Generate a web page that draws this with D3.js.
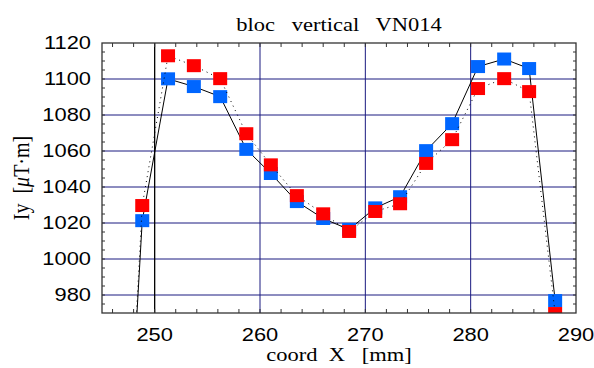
<!DOCTYPE html>
<html>
<head>
<meta charset="utf-8">
<title>bloc vertical VN014</title>
<script src="https://cdn.jsdelivr.net/npm/d3@7"></script>
<style>
  body { margin: 0; background: #fff; }
  .tick-label { font-family: "Liberation Sans", Arial, sans-serif; font-size: 17.5px; fill: #000; }
  .serif { font-family: "Liberation Serif", "Times New Roman", serif; fill: #000; white-space: pre; }
</style>
</head>
<body>
<script>
// measured values (coord X in mm, Iy in uT.m)
// first point sits off the chart, below 970 -> only its line is seen
var coordX = [246.35, 248.82, 251.27, 253.72, 256.22, 258.7, 261.03, 263.5, 266.0, 268.46,
              270.94, 273.3, 275.77, 278.24, 280.7, 283.18, 285.55, 288.02];
var iyBlue = [768, 1021.3, 1100.1, 1095.8, 1090.2, 1060.9, 1047.5, 1031.9, 1022.5, 1016.4,
              1028.4, 1034.6, 1060.2, 1075.2, 1106.9, 1111.1, 1105.8, 976.9];
var iyRed  = [760, 1029.7, 1112.9, 1107.4, 1100.2, 1069.6, 1052.3, 1035.2, 1025.1, 1015.3,
              1026.4, 1030.7, 1053.1, 1066.3, 1094.7, 1100.2, 1093.0, 969.7];
var xTicks = [250, 260, 270, 280, 290];
var yTicks = [980, 1000, 1020, 1040, 1060, 1080, 1100, 1120];

var width = 594, height = 368;
var margin = {top: 43, right: 18, bottom: 55, left: 102};
var w = width - margin.left - margin.right;
var h = height - margin.top - margin.bottom;
var stretch = 1.25; // the text in the picture is drawn wide

var x = d3.scaleLinear().domain([245, 290]).range([0, w]);
var y = d3.scaleLinear().domain([970, 1120]).range([h, 0]);

var svg = d3.select("body").append("svg")
    .attr("width", width)
    .attr("height", height);

var g = svg.append("g")
    .attr("transform", "translate(" + margin.left + "," + margin.top + ")");

g.append("clipPath").attr("id", "plotclip")
  .append("rect").attr("width", w).attr("height", h);

// grid
g.append("g").selectAll("line")
    .data(yTicks.filter(function(d) { return d > 970 && d < 1120; }))
    .enter().append("line")
    .attr("x1", 0).attr("x2", w)
    .attr("y1", function(d) { return y(d); })
    .attr("y2", function(d) { return y(d); })
    .attr("stroke", "#1a1a80")
    .attr("stroke-width", 1);

g.append("g").selectAll("line")
    .data([250, 260, 270, 280])
    .enter().append("line")
    .attr("y1", 0).attr("y2", h)
    .attr("x1", function(d) { return x(d); })
    .attr("x2", function(d) { return x(d); })
    .attr("stroke", function(d) { return d == 250 ? "#000" : "#1a1a80"; })
    .attr("stroke-width", function(d) { return d == 250 ? 1.3 : 1; });

// minor ticks, inside, on all four sides
var xMinor = d3.range(246, 290, 2);
var yMinor = d3.range(975, 1120, 5);
var ticks = g.append("g").attr("stroke", "#333").attr("stroke-width", 1);
xMinor.forEach(function(d) {
  ticks.append("line").attr("x1", x(d)).attr("x2", x(d)).attr("y1", h).attr("y2", h - 4);
  ticks.append("line").attr("x1", x(d)).attr("x2", x(d)).attr("y1", 0).attr("y2", 4);
});
yMinor.forEach(function(d) {
  ticks.append("line").attr("y1", y(d)).attr("y2", y(d)).attr("x1", 0).attr("x2", 3);
  ticks.append("line").attr("y1", y(d)).attr("y2", y(d)).attr("x1", w).attr("x2", w - 3);
});

var plot = g.append("g").attr("clip-path", "url(#plotclip)");

var blueData = coordX.map(function(d, i) { return [d, iyBlue[i]]; });
var redData = coordX.map(function(d, i) { return [d, iyRed[i]]; });

var line = d3.line()
    .x(function(d) { return x(d[0]); })
    .y(function(d) { return y(d[1]); });

var mw = 14, mh = 13;

plot.append("path")
    .datum(blueData)
    .attr("d", line)
    .attr("fill", "none")
    .attr("stroke", "#000")
    .attr("stroke-width", 1);

plot.append("g").selectAll("rect")
    .data(blueData)
    .enter().append("rect")
    .attr("x", function(d) { return x(d[0]) - mw / 2; })
    .attr("y", function(d) { return y(d[1]) - mh / 2; })
    .attr("width", mw).attr("height", mh)
    .attr("fill", "#0066ff");

plot.append("path")
    .datum(redData)
    .attr("d", line)
    .attr("fill", "none")
    .attr("stroke", "#000")
    .attr("stroke-width", 1)
    .attr("stroke-dasharray", "1,4");

plot.append("g").selectAll("rect")
    .data(redData)
    .enter().append("rect")
    .attr("x", function(d) { return x(d[0]) - mw / 2; })
    .attr("y", function(d) { return y(d[1]) - mh / 2; })
    .attr("width", mw).attr("height", mh)
    .attr("fill", "#ff0000");

// frame
g.append("rect")
    .attr("width", w).attr("height", h)
    .attr("fill", "none")
    .attr("stroke", "#333")
    .attr("stroke-width", 1.3);

// tick labels
g.append("g").selectAll("text")
    .data(xTicks)
    .enter().append("text")
    .attr("class", "tick-label")
    .attr("transform", function(d) {
      return "translate(" + x(d) + "," + (h + 28) + ") scale(" + stretch + ",1)";
    })
    .attr("text-anchor", "middle")
    .text(function(d) { return d; });

g.append("g").selectAll("text")
    .data(yTicks)
    .enter().append("text")
    .attr("class", "tick-label")
    .attr("transform", function(d) {
      return "translate(-11," + (y(d) + 6.3) + ") scale(" + stretch + ",1)";
    })
    .attr("text-anchor", "end")
    .text(function(d) { return d; });

// title and axis labels
svg.append("text")
    .attr("class", "serif")
    .attr("transform", "translate(" + (margin.left + w / 2) + ",31) scale(" + stretch + ",1)")
    .attr("text-anchor", "middle")
    .style("font-size", "18px")
    .text("bloc   vertical   VN014");

svg.append("text")
    .attr("class", "serif")
    .attr("transform", "translate(" + (margin.left + w / 2) + ",361) scale(" + stretch + ",1)")
    .attr("text-anchor", "middle")
    .style("font-size", "18px")
    .text("coord  X   [mm]");

var yl = svg.append("text")
    .attr("class", "serif")
    .attr("transform", "translate(29," + (margin.top + h / 2) + ") scale(1.2,1) rotate(-90)")
    .attr("text-anchor", "middle")
    .style("font-size", "20px");
yl.append("tspan").text("Iy  [");
yl.append("tspan").style("font-style", "italic").text("\u03bc");
yl.append("tspan").text("T\u00b7m]");
</script>
</body>
</html>
